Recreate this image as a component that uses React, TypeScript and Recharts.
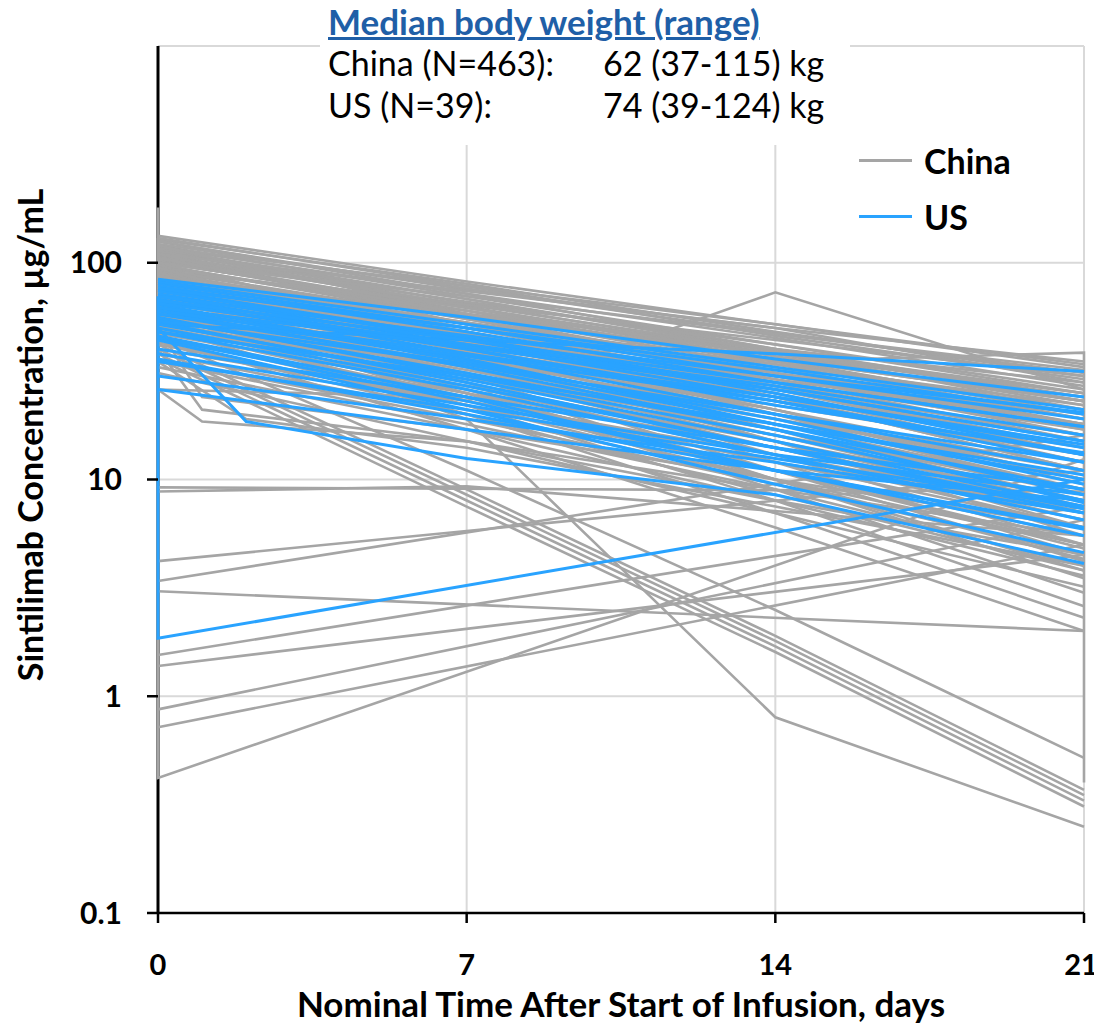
import React from 'react';
import { LineChart, Line, XAxis, YAxis, CartesianGrid } from 'recharts';

// Nominal sampling days for the regular profiles
const mainDays = [0, 7, 14, 21];
const xTicks = [0, 7, 14, 21];
const yTicks = [0.1, 1, 10, 100];
const yDomain = [0.1, 1000];

// China: concentration (ug/mL) at days 0, 7, 14, 21
const chinaUpper: number[][] = [
  [133, 82, 52, 33], [128, 80, 48, 30], [125, 75, 50, 28], [120, 70, 42, 25],
  [118, 72, 45, 27], [115, 65, 38, 22], [112, 68, 40, 24], [110, 62, 36, 20],
  [108, 66, 42, 26], [105, 60, 34, 19], [102, 58, 33, 18], [100, 62, 38, 24],
  [98, 55, 30, 16], [96, 57, 35, 21], [130, 78, 46, 29], [126, 72, 40, 23],
  [122, 76, 47, 31], [116, 68, 39, 21], [113, 63, 35, 19], [106, 64, 39, 25],
  [104, 57, 31, 16], [101, 60, 35, 20], [97, 58, 36, 23], [118, 78, 52, 34],
  [110, 74, 50, 35], [100, 70, 47, 32], [92, 64, 44, 30], [85, 58, 40, 28],
];
const chinaMiddle: number[][] = [
  [95, 60, 38, 25], [92, 55, 32, 19], [90, 52, 30, 17], [88, 56, 36, 23],
  [86, 50, 28, 15], [84, 53, 34, 22], [82, 48, 27, 14], [80, 50, 31, 20],
  [78, 46, 26, 14], [76, 47, 29, 18], [75, 43, 24, 12], [73, 45, 28, 17],
  [72, 42, 23, 12], [70, 44, 27, 16], [68, 40, 24, 14], [66, 38, 21, 11],
  [65, 41, 26, 16], [63, 36, 20, 10], [62, 38, 23, 13], [60, 34, 18, 9],
  [58, 36, 22, 13], [57, 32, 17, 8.5], [56, 33, 19, 11], [55, 30, 16, 8],
  [94, 52, 29, 15], [91, 50, 27, 13], [89, 53, 31, 18], [87, 48, 26, 13],
  [85, 47, 25, 12], [83, 50, 30, 18], [81, 45, 24, 11], [79, 44, 25, 13],
  [77, 41, 21, 10], [74, 40, 21, 10], [71, 39, 20, 9.5], [69, 37, 19, 9],
  [67, 35, 17, 8], [64, 33, 16, 7.5], [61, 31, 15, 7], [59, 30, 14, 6.5],
];
const chinaLower: number[][] = [
  [53, 30, 17, 9], [52, 28, 14, 7], [50, 29, 16, 9], [48, 26, 13, 6.5],
  [47, 27, 15, 8], [45, 24, 12, 6], [44, 25, 14, 7.5], [42, 22, 11, 5.5],
  [40, 23, 13, 7], [38, 20, 10, 5], [36, 19, 9.5, 4.5], [35, 18, 9, 4],
  [33, 17, 8, 3.6], [31, 15, 7, 3.2], [54, 27, 13, 6], [51, 25, 11, 5],
  [49, 24, 11, 4.8], [46, 22, 10, 4.3], [43, 20, 8.5, 3.8],
];
const chinaFastDecline: number[][] = [
  [60, 25, 9, 3.0], [55, 22, 8, 2.6], [50, 20, 7, 2.3], [45, 17, 6, 2.0],
  [70, 28, 10, 3.5], [40, 8.5, 1.8, 0.35], [42, 9, 1.9, 0.37], [38, 8, 1.7, 0.33],
  [36, 7.5, 1.6, 0.31], [45, 11, 2.5, 0.52], [90, 40, 17, 7], [85, 36, 15, 6],
  [80, 33, 13, 5], [75, 30, 11, 4.2], [65, 26, 10, 3.8], [100, 45, 20, 8.5],
  [110, 52, 24, 11], [120, 58, 28, 13], [95, 38, 15, 5.5], [88, 34, 12, 4.5],
];
// China: irregular profiles as [day, concentration]
const chinaIrregular: [number, number][][] = [
  [[0, 180], [0, 100], [7, 62], [14, 37], [21, 23]],
  [[0, 130], [0, 0.42], [21, 12.4]],
  [[0, 0.72], [21, 5.0]],
  [[0, 0.87], [21, 6.5]],
  [[0, 1.38], [21, 4.5]],
  [[0, 1.55], [21, 7.5]],
  [[0, 3.05], [21, 2.0]],
  [[0, 3.4], [21, 16]],
  [[0, 4.2], [21, 11]],
  [[0, 9.2], [21, 8.8]],
  [[0, 8.8], [7, 9.3], [21, 5.5]],
  [[0, 26], [1, 18.5], [7, 15], [14, 9], [21, 5.5]],
  [[0, 40], [1, 21], [7, 15], [14, 8], [21, 4.5]],
  [[0, 35], [2, 19], [7, 14], [14, 7.5], [21, 4]],
  [[0, 26], [7, 24], [14, 12], [21, 7]],
  [[0, 50], [1, 24], [7, 17], [14, 10], [21, 6]],
  [[0, 60], [7, 23], [14, 73], [21, 26]],
  [[0, 105], [7, 58], [14, 35], [21, 38.5], [21, 0.4]],
  [[0, 60], [7, 19], [14, 0.8], [21, 0.25]],
];

// US: concentration at days 0, 7, 14, 21
const usProfiles: number[][] = [
  [52, 44, 38, 31.5], [80, 50, 30, 20.4], [78, 48, 28, 17.5], [75, 45, 26, 15],
  [72, 42, 24, 14], [70, 40, 22, 13.3], [68, 38, 20, 11], [66, 40, 23, 12],
  [64, 36, 18, 10], [62, 35, 19, 9.5], [60, 33, 17, 9], [58, 34, 18, 8.5],
  [56, 30, 16, 8], [55, 31, 17, 7.8], [53, 28, 14, 7.3], [52, 29, 15, 7.5],
  [50, 27, 14, 7], [48, 26, 13, 6.5], [46, 24, 11, 5.9], [45, 23, 11, 5.5],
  [44, 21, 9.5, 4.6], [40, 24, 14, 9], [38, 22, 13, 8.5], [35, 21, 12.5, 7.5],
  [65, 42, 27, 16], [70, 46, 30, 19], [62, 41, 26, 15], [58, 37, 23, 13],
  [74, 44, 25, 13], [30, 19, 12, 7], [36, 20, 11, 6], [26, 17, 11, 8],
  [82, 52, 33, 21], [84, 56, 36, 24], [76, 50, 32, 20], [67, 44, 28, 17.5],
  [60, 38, 24, 14.5], [54, 34, 20, 12], [48, 30, 18, 10.5],
];
const usIrregular: [number, number][][] = [
  [[0, 50], [2, 18.5], [7, 12.5], [14, 8.5], [21, 4.1]],
  [[0, 70], [0, 1.85], [21, 10]],
];

const GRAY = '#A5A5A5';
const BLUE = '#29A3FF';
const FONT = 'Lato, "Open Sans", sans-serif';

const fromMain = (vals: number[]) => vals.map((conc, i) => ({ day: mainDays[i], conc }));
const fromPairs = (pairs: [number, number][]) => pairs.map(([day, conc]) => ({ day, conc }));

const chinaSeries = [
  ...chinaUpper.map(fromMain),
  ...chinaMiddle.map(fromMain),
  ...chinaLower.map(fromMain),
  ...chinaFastDecline.map(fromMain),
  ...chinaIrregular.map(fromPairs),
];
const usSeries = [...usProfiles.map(fromMain), ...usIrregular.map(fromPairs)];

// y axis drawn as a series so the profiles can sit on top of it
const yAxisLine = [{ day: 0, conc: yDomain[0] }, { day: 0, conc: yDomain[1] }];

// last x label sits at the page edge, nudge it in a little
const XTick = ({ x, y, payload }: any) => {
  const last = payload.value === xTicks[xTicks.length - 1];
  return (
    <text
      x={last ? x - 3 : x}
      y={y}
      dy="0.71em"
      textAnchor="middle"
      fill="#000"
      fontSize={29}
      fontWeight={700}
      fontFamily={FONT}
    >
      {payload.value}
    </text>
  );
};

export default function App() {
  return (
    <div style={{ position: 'relative', width: 1094, height: 1016, fontFamily: FONT }}>
      <LineChart width={1094} height={1016} margin={{ top: 38, right: 18, bottom: 0, left: 0 }}>
        <CartesianGrid stroke="#D9D9D9" strokeWidth={2} />
        <XAxis
          dataKey="day"
          type="number"
          domain={[0, 21]}
          ticks={xTicks}
          height={111}
          allowDuplicatedCategory={false}
          axisLine={{ stroke: '#000', strokeWidth: 2.5 }}
          tickLine={{ stroke: '#000', strokeWidth: 2.5 }}
          tickSize={10}
          tickMargin={31}
          tick={<XTick />}
        />
        <YAxis
          dataKey="conc"
          type="number"
          scale="log"
          domain={yDomain}
          allowDataOverflow
          ticks={yTicks}
          width={150}
          axisLine={false}
          tickLine={{ stroke: '#000', strokeWidth: 2.5 }}
          tickSize={11}
          tickMargin={25}
          tickFormatter={(v: number) => String(v)}
          tick={{ fill: '#000', fontSize: 30, fontWeight: 700, fontFamily: FONT }}
        />
        <Line
          data={yAxisLine}
          dataKey="conc"
          stroke="#000"
          strokeWidth={3}
          dot={false}
          activeDot={false}
          isAnimationActive={false}
        />
        {chinaSeries.map((d, i) => (
          <Line
            key={'c' + i}
            data={d}
            dataKey="conc"
            stroke={GRAY}
            strokeWidth={2.6}
            dot={false}
            activeDot={false}
            isAnimationActive={false}
          />
        ))}
        {usSeries.map((d, i) => (
          <Line
            key={'u' + i}
            data={d}
            dataKey="conc"
            stroke={BLUE}
            strokeWidth={3}
            dot={false}
            activeDot={false}
            isAnimationActive={false}
          />
        ))}
      </LineChart>

      {/* body weight box */}
      <div
        style={{
          position: 'absolute',
          left: 312,
          top: -8,
          width: 530,
          height: 145,
          background: '#fff',
          color: '#000',
          fontSize: 34,
          lineHeight: '42px',
        }}
      >
        <div
          style={{
            color: '#1F5FA7',
            fontWeight: 700,
            fontSize: 35,
            textDecoration: 'underline',
            paddingLeft: 8,
          }}
        >
          Median body weight (range)
        </div>
        <div style={{ display: 'flex', paddingLeft: 8 }}>
          <span style={{ width: 275 }}>China (N=463):</span>
          <span>62 (37-115) kg</span>
        </div>
        <div style={{ display: 'flex', paddingLeft: 8 }}>
          <span style={{ width: 275 }}>US (N=39):</span>
          <span>74 (39-124) kg</span>
        </div>
      </div>

      {/* legend */}
      {[
        { name: 'China', color: GRAY, top: 152 },
        { name: 'US', color: BLUE, top: 208 },
      ].map((item) => (
        <div
          key={item.name}
          style={{ position: 'absolute', left: 851, top: item.top - 20, display: 'flex', alignItems: 'center', height: 40 }}
        >
          <div style={{ width: 53, height: 3, background: item.color }} />
          <span style={{ marginLeft: 12, fontSize: 34, fontWeight: 700 }}>{item.name}</span>
        </div>
      ))}

      {/* axis titles */}
      <div
        style={{
          position: 'absolute',
          left: 150,
          width: 926,
          top: 974,
          textAlign: 'center',
          fontSize: 35,
          fontWeight: 700,
        }}
      >
        Nominal Time After Start of Infusion, days
      </div>
      <div
        style={{
          position: 'absolute',
          left: 22 - 300,
          top: 427 - 20,
          width: 600,
          height: 40,
          lineHeight: '40px',
          textAlign: 'center',
          transform: 'rotate(-90deg)',
          fontSize: 34,
          fontWeight: 700,
        }}
      >
        Sintilimab Concentration, µg/mL
      </div>
    </div>
  );
}
